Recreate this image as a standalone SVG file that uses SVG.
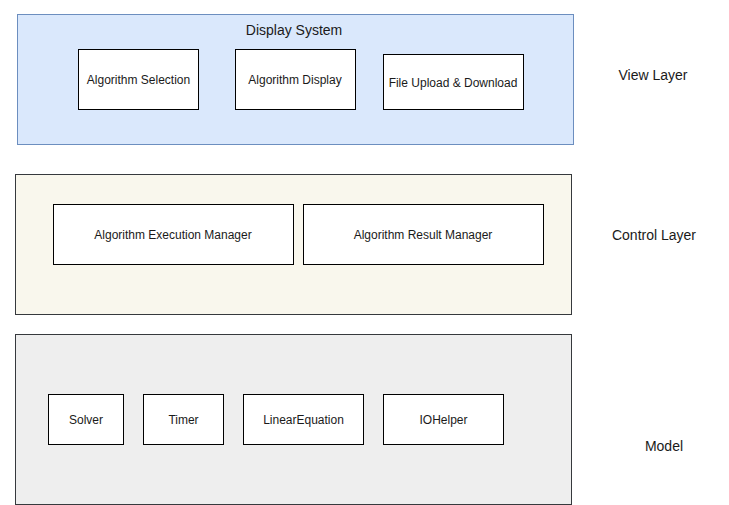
<svg xmlns="http://www.w3.org/2000/svg" width="729" height="505" viewBox="0 0 729 505">
<style>
text{font-family:"Liberation Sans",Arial,sans-serif;fill:#1a1a1a;text-anchor:middle}
.t12{font-size:12px}
.t14{font-size:14px}
.box{fill:#ffffff;stroke:#000000;stroke-width:1}
.view{fill:#dae8fc;stroke:#6c8ebf;stroke-width:1}
.ctrl{fill:#f9f7ed;stroke:#36393d;stroke-width:1}
.model{fill:#eeeeee;stroke:#36393d;stroke-width:1}
</style>
<rect width="729" height="505" fill="#ffffff"/>
<g id="view-layer">
<rect class="view" x="17.5" y="14.5" width="556" height="130"/>
<text class="t14" x="294" y="35">Display System</text>
</g>
<g id="algorithm-selection">
<rect class="box" x="78.5" y="49.5" width="120" height="60"/>
<text class="t12" x="138.5" y="84">Algorithm Selection</text>
</g>
<g id="algorithm-display">
<rect class="box" x="235.5" y="49.5" width="120" height="60"/>
<text class="t12" x="295" y="84">Algorithm Display</text>
</g>
<g id="file-upload-download">
<rect class="box" x="383.5" y="54.5" width="140" height="55"/>
<text class="t12" x="453" y="86.5">File Upload &amp; Download</text>
</g>
<g id="view-label"><text class="t14" x="653" y="80">View Layer</text></g>
<g id="control-layer">
<rect class="ctrl" x="15.5" y="174.5" width="556" height="140"/>
</g>
<g id="algorithm-execution-manager">
<rect class="box" x="53.5" y="204.5" width="240" height="60"/>
<text class="t12" x="173" y="239">Algorithm Execution Manager</text>
</g>
<g id="algorithm-result-manager">
<rect class="box" x="303.5" y="204.5" width="240" height="60"/>
<text class="t12" x="423" y="239">Algorithm Result Manager</text>
</g>
<g id="control-label"><text class="t14" x="654" y="240">Control Layer</text></g>
<g id="model-layer">
<rect class="model" x="15.5" y="334.5" width="556" height="170"/>
</g>
<g id="solver">
<rect class="box" x="48.5" y="394.5" width="75" height="50"/>
<text class="t12" x="86" y="424">Solver</text>
</g>
<g id="timer">
<rect class="box" x="143.5" y="394.5" width="80" height="50"/>
<text class="t12" x="183.5" y="424">Timer</text>
</g>
<g id="linear-equation">
<rect class="box" x="243.5" y="394.5" width="120" height="50"/>
<text class="t12" x="303.5" y="424">LinearEquation</text>
</g>
<g id="iohelper">
<rect class="box" x="383.5" y="394.5" width="120" height="50"/>
<text class="t12" x="443.5" y="424">IOHelper</text>
</g>
<g id="model-label"><text class="t14" x="664" y="451">Model</text></g>
<g id="connectors"></g>
</svg>
